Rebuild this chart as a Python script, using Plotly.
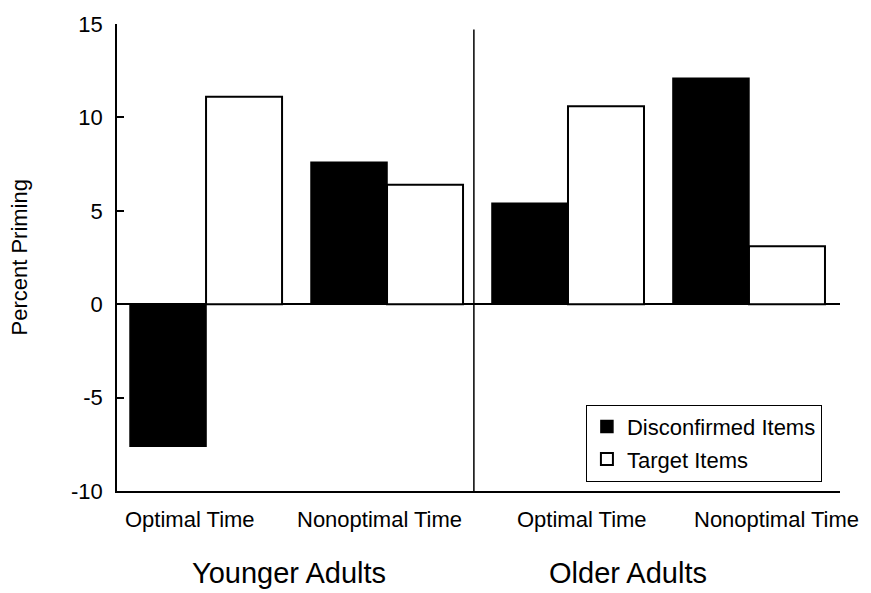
import plotly.graph_objects as go

# ---- data ----
conditions = ["Optimal Time", "Nonoptimal Time", "Optimal Time", "Nonoptimal Time"]
age_groups = ["Younger Adults", "Older Adults"]
disconfirmed = [-7.6, 7.6, 5.4, 12.1]
target = [11.1, 6.4, 10.6, 3.1]
series_names = ["Disconfirmed Items", "Target Items"]
y_ticks = [-10, -5, 0, 5, 10, 15]
y_tick_labels = [str(v) for v in y_ticks]

FONT = "Liberation Sans, Arial, Helvetica, sans-serif"
xpos = list(range(len(conditions)))

fig = go.Figure()
fig.add_trace(go.Bar(
    x=xpos, y=disconfirmed, name=series_names[0], legendgroup="a",
    marker=dict(color="black", line=dict(color="black", width=1.5)),
))
fig.add_trace(go.Bar(
    x=xpos, y=target, name=series_names[1], legendgroup="b",
    marker=dict(color="white", line=dict(color="black", width=2)),
))

# layout positions for labels (in x data units / paper y)
cond_label_x = [-0.09, 0.96, 2.08, 3.15]
group_label_x = [0.46, 2.33]

annotations = []
for lx, txt in zip(cond_label_x, conditions):
    annotations.append(dict(x=lx, y=-0.062, xref="x", yref="paper", text=txt,
                            showarrow=False, xanchor="center", yanchor="middle",
                            font=dict(family=FONT, size=22, color="black")))
for lx, txt in zip(group_label_x, age_groups):
    annotations.append(dict(x=lx, y=-0.175, xref="x", yref="paper", text=txt,
                            showarrow=False, xanchor="center", yanchor="middle",
                            font=dict(family=FONT, size=29, color="black")))
annotations.append(dict(x=-0.1355, y=0.5, xref="paper", yref="paper",
                        text="Percent Priming", textangle=-90, showarrow=False,
                        xanchor="center", yanchor="middle",
                        font=dict(family=FONT, size=22, color="black")))

fig.update_layout(
    width=871, height=593,
    margin=dict(l=117, r=31, t=22, b=102),
    paper_bgcolor="white", plot_bgcolor="white",
    barmode="group", bargap=0.16, bargroupgap=0,
    font=dict(family=FONT, size=20, color="black"),
    showlegend=True,
    legend=dict(x=0.975, y=0.185, xanchor="right", yanchor="top",
                bgcolor="white", bordercolor="black", borderwidth=1,
                font=dict(family=FONT, size=22, color="black"),
                itemwidth=30, tracegroupgap=1),
    annotations=annotations,
    shapes=[dict(type="line", xref="x", yref="y", x0=1.48, x1=1.48,
                 y0=-10, y1=14.7, line=dict(color="black", width=1.5))],
)
fig.update_xaxes(range=[-0.492, 3.503], showticklabels=False, ticks="",
                 showline=True, linecolor="black", linewidth=2,
                 showgrid=False, zeroline=False, mirror=False)
fig.update_yaxes(range=[-10, 15], tickvals=y_ticks, ticktext=y_tick_labels,
                 ticks="inside", ticklen=7,
                 tickcolor="black", tickwidth=1.5,
                 showline=True, linecolor="black", linewidth=1.5,
                 showgrid=False, zeroline=True, zerolinecolor="black",
                 zerolinewidth=2, ticklabelstandoff=8,
                 tickfont=dict(family=FONT, size=22, color="black"))

fig.write_html("out.html", config={"displayModeBar": False},
               post_script="document.body.style.margin='0';document.body.style.overflow='hidden';")
